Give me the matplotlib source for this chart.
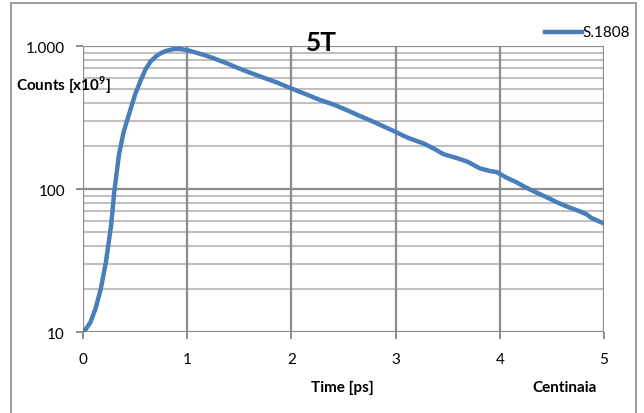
import matplotlib
matplotlib.use("Agg")
import matplotlib.pyplot as plt
from matplotlib.ticker import FixedLocator, FixedFormatter, NullFormatter
from matplotlib.patches import Rectangle

# ---- data ----
time_ps = [0.0, 0.03, 0.07, 0.12, 0.17, 0.22, 0.27, 0.30, 0.345, 0.39, 0.46,
           0.50, 0.55, 0.60, 0.65, 0.70, 0.75, 0.80, 0.87, 0.93, 1.0, 1.08,
           1.16, 1.26, 1.32, 1.40, 1.48, 1.6, 1.735,
           1.87, 2.0, 2.14, 2.28, 2.41, 2.535, 2.66, 2.79, 2.9, 3.0, 3.08,
           3.14, 3.27, 3.37, 3.46, 3.58, 3.69, 3.81, 3.91, 3.97, 4.06, 4.16,
           4.25, 4.35, 4.45, 4.55, 4.66, 4.77, 4.83, 4.88, 5.0]
counts = [10, 10.6, 11.7, 14.6, 20, 31, 56, 96, 174, 252, 370,
          460, 569, 690, 785, 850, 898, 930, 956, 958, 940, 905,
          870, 822, 790, 750, 708, 655, 603,
          555, 507, 462, 420, 390, 357, 325, 296, 272, 252, 236,
          226, 209, 192, 176, 166, 156, 140, 134, 132, 121, 112,
          103, 95, 88, 81, 75, 70, 67, 63, 57.6]
series_name = "S.1808"
x_ticks = [0, 1, 2, 3, 4, 5]
y_major = [10, 100, 1000]
y_major_labels = ["10", "100", "1.000"]
y_minor = [20, 30, 40, 50, 60, 70, 80, 90, 200, 300, 400, 500, 600, 700, 800, 900]

FONT = ["Lato", "DejaVu Sans"]
plt.rcParams["font.family"] = FONT
plt.rcParams["mathtext.fontset"] = "custom"
plt.rcParams["mathtext.rm"] = "Lato:bold"
plt.rcParams["mathtext.bf"] = "Lato:bold"

W, H = 644, 414
fig = plt.figure(figsize=(W / 100, H / 100), dpi=100)
fig.patch.set_facecolor("white")

def fx(px):
    return px / W

def fy(py):
    return 1 - py / H

# outer chart frame (bottom cut off)
fig.patches.append(Rectangle((fx(11), fy(420)), fx(636) - fx(11), fy(4) - fy(420),
                             transform=fig.transFigure, fill=False,
                             edgecolor="#8a8a8a", linewidth=1.2, zorder=0))

ax = fig.add_axes([fx(83), fy(333.3), fx(604) - fx(83), fy(47.3) - fy(333.3)])
ax.set_yscale("log")
ax.set_xlim(0, 5)
ax.set_ylim(10, 1000)

for s in ax.spines.values():
    s.set_visible(False)

major_c = "#8c8c8c"
minor_c = "#c0c0c0"
for v in y_minor:
    ax.axhline(v, color=minor_c, linewidth=1.5, zorder=1)
for v in y_major:
    ax.axhline(v, color=major_c, linewidth=1.6, zorder=2)
for v in x_ticks:
    ax.axvline(v, color=major_c, linewidth=1.6, zorder=2)

ax.plot(time_ps, counts, color="#4a7ebb", linewidth=3.2, solid_capstyle="butt",
        solid_joinstyle="round", zorder=3, label=series_name)

ax.xaxis.set_major_locator(FixedLocator(x_ticks))
ax.set_xticklabels([str(v) for v in x_ticks])
ax.yaxis.set_major_locator(FixedLocator(y_major))
ax.yaxis.set_major_formatter(FixedFormatter(y_major_labels))
ax.yaxis.set_minor_locator(FixedLocator(y_minor))
ax.yaxis.set_minor_formatter(NullFormatter())
ax.tick_params(axis="y", which="minor", length=0)
ax.tick_params(axis="both", which="major", length=5, width=1.4, color=major_c,
               labelsize=11, labelcolor="#000000")
ax.tick_params(axis="x", pad=9)
ax.tick_params(axis="y", pad=8)

# texts
fig.text(fx(321), fy(51), "5T", fontsize=19, fontweight="bold", ha="center",
         va="baseline", family=FONT)
fig.text(fx(16), fy(85), "Counts [x10$^{\\mathbf{9}}$]", fontsize=11, fontweight="bold",
         ha="left", va="center", family=FONT)
fig.text(fx(342), fy(388), "Time [ps]", fontsize=11, fontweight="bold",
         ha="center", va="center", family=FONT)
fig.text(fx(565), fy(388), "Centinaia", fontsize=11, fontweight="bold",
         ha="center", va="center", family=FONT)

# legend
fig.add_artist(plt.Line2D([fx(545), fx(582)], [fy(33), fy(33)], color="#4a7ebb",
                          linewidth=3.2, transform=fig.transFigure))
fig.text(fx(582), fy(33), series_name, fontsize=11, ha="left", va="center",
         family=FONT)

fig.savefig("out.png", dpi=100, facecolor="white")
